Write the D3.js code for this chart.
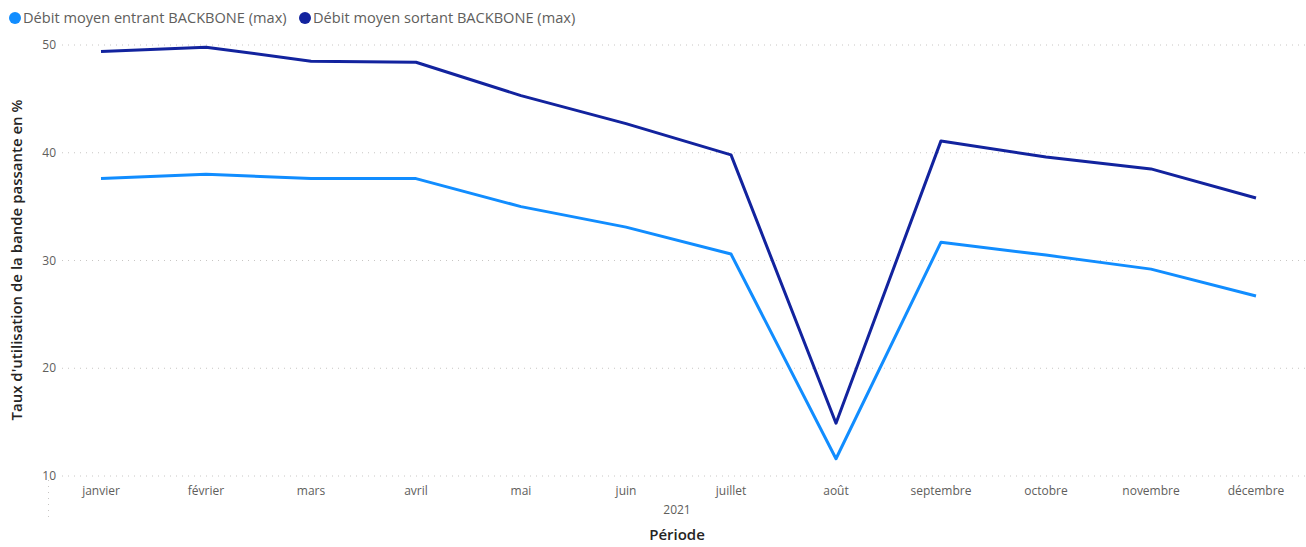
<!DOCTYPE html>
<html><head><meta charset="utf-8">
<script src="https://cdn.jsdelivr.net/npm/d3@7"></script>
<style>
html,body{margin:0;padding:0;background:#fff;}
svg{display:block;font-family:"Open Sans","Noto Sans",sans-serif;}
</style></head>
<body><svg id="chart" width="1306" height="547"></svg>
<script>
const months = ["janvier","février","mars","avril","mai","juin","juillet","août","septembre","octobre","novembre","décembre"];
const entrant = [37.6,38.0,37.6,37.6,35.0,33.1,30.6,11.6,31.7,30.5,29.2,26.7];
const sortant = [49.4,49.8,48.5,48.4,45.3,42.7,39.8,14.9,41.1,39.6,38.5,35.8];
const yTicks = [10,20,30,40,50];
const seriesNames = ["Débit moyen entrant BACKBONE (max)","Débit moyen sortant BACKBONE (max)"];
const colors = ["#118DFF","#12239E"];
const yearLabel = "2021";
const xTitle = "Période";
const yTitle = "Taux d'utilisation de la bande passante en %";

const svg = d3.select("#chart");
const x = d3.scalePoint().domain(months).range([101,1256]);
const y = d3.scaleLinear().domain([10,50]).range([476,45]);

// gridlines
svg.append("g").selectAll("line").data(yTicks).join("line")
  .attr("x1",62).attr("x2",1306).attr("y1",d=>y(d)).attr("y2",d=>y(d))
  .attr("stroke","#c8c6c4").attr("stroke-width",1).attr("stroke-dasharray","1,5");

// y tick labels
svg.append("g").selectAll("text").data(yTicks).join("text")
  .attr("x",56).attr("y",d=>y(d)).attr("dy","0.35em").attr("text-anchor","end")
  .attr("fill","#605E5C").attr("font-size",12).text(d=>d);

// x tick labels
svg.append("g").selectAll("text").data(months).join("text")
  .attr("x",d=>x(d)).attr("y",495).attr("text-anchor","middle")
  .attr("fill","#605E5C").attr("font-size",12).text(d=>d);

// hierarchical separator
svg.append("line").attr("x1",48.5).attr("x2",48.5).attr("y1",480).attr("y2",520)
  .attr("stroke","#c8c6c4").attr("stroke-dasharray","1,5");

svg.append("text").attr("x",677).attr("y",514).attr("text-anchor","middle")
  .attr("fill","#605E5C").attr("font-size",12).text(yearLabel);

svg.append("text").attr("x",677).attr("y",540).attr("text-anchor","middle")
  .attr("fill","#252423").attr("font-size",15).attr("font-weight",600).text(xTitle);

svg.append("text").attr("transform","translate(22,260) rotate(-90)").attr("text-anchor","middle")
  .attr("fill","#252423").attr("font-size",15).attr("font-weight",600).text(yTitle);

// lines
const line = d3.line().x((d,i)=>x(months[i])).y(d=>y(d));
[entrant,sortant].forEach((s,i)=>{
  svg.append("path").datum(s).attr("d",line).attr("fill","none")
    .attr("stroke",colors[i]).attr("stroke-width",3).attr("stroke-linejoin","round");
});

// legend
const legendX = [15,305];
seriesNames.forEach((n,i)=>{
  svg.append("circle").attr("cx",legendX[i]).attr("cy",18).attr("r",6).attr("fill",colors[i]);
  svg.append("text").attr("x",legendX[i]+8).attr("y",18).attr("dy","0.35em")
    .attr("fill","#605E5C").attr("font-size",14.6).text(n);
});
</script></body></html>
